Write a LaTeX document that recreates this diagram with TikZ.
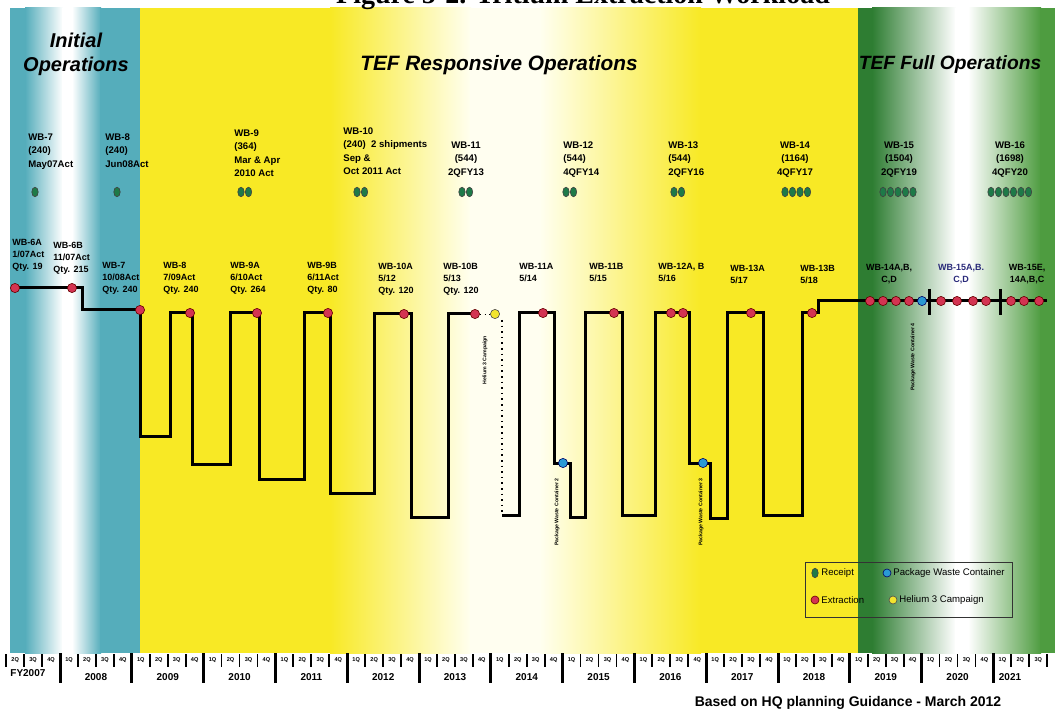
\documentclass[tikz,border=0pt]{standalone}
\usepackage{fontspec}
\setmainfont{Liberation Sans}
\newfontfamily\titleserif{Liberation Serif}
\usetikzlibrary{shapes.geometric}

\definecolor{tealband}{HTML}{55ADBB}
\definecolor{yellowband}{HTML}{F8E925}
\definecolor{greenband}{HTML}{2E7D32}
\definecolor{greenbandR}{HTML}{4E9C40}
\definecolor{rcptgreen}{HTML}{1E7A48}
\definecolor{extrred}{HTML}{D33452}
\definecolor{pwcblue}{HTML}{2A9AD4}
\definecolor{heyellow}{HTML}{F2E42E}
\definecolor{navytext}{HTML}{2A2A7A}

\tikzset{
  toplbl/.style={inner sep=0pt, align=left, anchor=north west, font=\fontsize{4.8}{6.75}\selectfont\bfseries},
  lowlbl/.style={inner sep=0pt, align=left, anchor=north west, font=\fontsize{4.5}{6}\selectfont\bfseries},
  phase/.style={inner sep=0pt, align=center, font=\fontsize{10}{12}\selectfont\bfseries\itshape},
  rotlbl/.style={inner sep=0pt, rotate=90, font=\fontsize{2.6}{3}\selectfont\bfseries},
  rcpt/.style={ellipse, draw=black!75, line width=0.3pt, fill=rcptgreen, inner sep=0pt, minimum width=3.2pt, minimum height=4.8pt},
  xdot/.style={circle, draw=red!40!black, line width=0.3pt, fill=extrred, inner sep=0pt, minimum size=4.6pt},
  pwcdot/.style={xdot, draw=blue!40!black, fill=pwcblue},
  hedot/.style={xdot, draw=black!70, fill=heyellow},
  extr/.style={line width=1.5pt, line join=miter},
  legtxt/.style={inner sep=0pt, anchor=west, font=\fontsize{4.8}{5}\selectfont},
  yrlbl/.style={inner sep=0pt, font=\fontsize{5}{6}\selectfont\bfseries}
}

\begin{document}
\begin{tikzpicture}[x=0.5pt,y=-0.5pt]
\useasboundingbox (0,0) rectangle (1055,711);
\fill[white] (0,0) rectangle (1055,711);

% phase bands
\fill[tealband] (10,8) rectangle (26,653);
\shade[left color=tealband, right color=white] (25,8) rectangle (63,653);
\fill[white] (62,8) rectangle (73,653);
\shade[left color=white, right color=tealband] (72,8) rectangle (101,653);
\fill[tealband] (100,8) rectangle (140,653);

\fill[yellowband] (140,8) rectangle (331,653);
\shade[left color=yellowband, right color=yellow!6] (330,8) rectangle (471,653);
\fill[yellow!6] (470,8) rectangle (541,653);
\shade[left color=yellow!6, right color=yellowband] (540,8) rectangle (701,653);
\fill[yellowband] (700,8) rectangle (858,653);

\fill[greenband] (858,8) rectangle (873,653);
\shade[left color=greenband, right color=white] (872,8) rectangle (956,653);
\fill[white] (955,8) rectangle (969,653);
\shade[left color=white, right color=greenbandR] (968,8) rectangle (1041,653);
\fill[greenbandR] (1040,8) rectangle (1055,653);

% title, cut by the top edge
\node[anchor=base, inner sep=0pt, font=\titleserif\bfseries\fontsize{14}{16}\selectfont] (title) at (583,4) {Figure 5-2. Tritium Extraction Workload};

\node[phase] (initial) at (76,54) {Initial\\Operations};
\node[phase, font=\fontsize{10.4}{12}\selectfont\bfseries\itshape] (responsive) at (499,65) {TEF Responsive Operations};
\node[phase, font=\fontsize{9.6}{12}\selectfont\bfseries\itshape] (full) at (950,65) {TEF Full Operations};

% receipts
\node[toplbl] (wb7) at (28,133) {WB-7\\(240)\\May07Act};
\node[toplbl] (wb8) at (105,133) {WB-8\\(240)\\Jun08Act};
\node[toplbl] (wb9) at (234,129) {WB-9\\(364)\\Mar \& Apr\\2010 Act};
\node[toplbl] (wb10) at (343,127) {WB-10\\(240)\ \ 2 shipments\\Sep \&\\Oct 2011 Act};
\node[toplbl, align=center, anchor=north] (wb11) at (466,141) {WB-11\\(544)\\2QFY13};
\node[toplbl] (wb12) at (563,141) {WB-12\\(544)\\4QFY14};
\node[toplbl] (wb13) at (668,141) {WB-13\\(544)\\2QFY16};
\node[toplbl, align=center, anchor=north] (wb14) at (795,141) {WB-14\\(1164)\\4QFY17};
\node[toplbl, align=center, anchor=north] (wb15) at (899,141) {WB-15\\(1504)\\2QFY19};
\node[toplbl, align=center, anchor=north] (wb16) at (1010,141) {WB-16\\(1698)\\4QFY20};

\foreach \x/\n in {35/1, 117/1, 241/2, 357/2, 462/2, 566/2, 674/2, 785/4, 883/5, 991/6}
  \foreach \i in {1,...,\n}
    \node[rcpt] at (\x+7.5*\i-7.5,192) {};

% extractions
\node[lowlbl] (wb6a) at (12,239) {WB-6A\\1/07Act\\Qty. 19};
\node[lowlbl] (wb6b) at (53,242) {WB-6B\\11/07Act\\Qty. 215};
\node[lowlbl] (wb7x) at (102,262) {WB-7\\10/08Act\\Qty. 240};
\node[lowlbl] (wb8x) at (163,262) {WB-8\\7/09Act\\Qty. 240};
\node[lowlbl] (wb9a) at (230,262) {WB-9A\\6/10Act\\Qty. 264};
\node[lowlbl] (wb9b) at (307,262) {WB-9B\\6/11Act\\Qty. 80};
\node[lowlbl] (wb10a) at (378,263) {WB-10A\\5/12\\Qty. 120};
\node[lowlbl] (wb10b) at (443,263) {WB-10B\\5/13\\Qty. 120};
\node[lowlbl] (wb11a) at (519,263) {WB-11A\\5/14};
\node[lowlbl] (wb11b) at (589,263) {WB-11B\\5/15};
\node[lowlbl] (wb12ab) at (658,263) {WB-12A, B\\5/16};
\node[lowlbl] (wb13a) at (730,265) {WB-13A\\5/17};
\node[lowlbl] (wb13b) at (800,265) {WB-13B\\5/18};
\node[lowlbl, align=center, anchor=north] (wb14x) at (889,264) {WB-14A,B,\\C,D};
\node[lowlbl, align=center, anchor=north, text=navytext] (wb15x) at (961,264) {WB-15A,B.\\C,D};
\node[lowlbl, align=center, anchor=north] (wb15e) at (1027,264) {WB-15E,\\14A,B,C};

\draw[extr] (15,288) -- (82,288) -- (82,310) -- (140,310) -- (140,436) -- (170,436)
  -- (170,313) -- (192,313) -- (192,464) -- (230,464) -- (230,313) -- (259,313)
  -- (259,479) -- (304,479) -- (304,313) -- (330,313) -- (330,493) -- (374,493)
  -- (374,314) -- (411,314) -- (411,517) -- (448,517) -- (448,314) -- (475,314);
\draw[line width=0.4pt, dotted] (475,314) -- (495,314);
\draw[line width=0.8pt, dotted] (502,320) -- (502,515);
\draw[extr] (502,515) -- (519,515) -- (519,313) -- (554,313) -- (554,463) -- (570,463)
  -- (570,517) -- (585,517) -- (585,313) -- (622,313) -- (622,515) -- (655,515)
  -- (655,313) -- (689,313) -- (689,463) -- (710,463) -- (710,518) -- (727,518)
  -- (727,313) -- (763,313) -- (763,515) -- (802,515) -- (802,313) -- (818,313)
  -- (818,301) -- (1047,301);
\draw[line width=1.5pt] (929,289) -- (929,315);
\draw[line width=1.5pt] (1000,289) -- (1000,315);

\foreach \x/\y in {15/288, 72/288, 140/310, 190/313, 257/313, 328/313, 404/314, 475/314,
    543/313, 614/313, 671/313, 683/313, 751/313, 812/313}
  \node[xdot] at (\x,\y) {};
\foreach \x in {870, 883, 896, 909, 941, 957, 973, 986, 1011, 1024, 1039}
  \node[xdot] at (\x,301) {};
\node[hedot] (he3) at (495,314) {};
\node[pwcdot] (pwc2) at (563,463) {};
\node[pwcdot] (pwc3) at (703,463) {};
\node[pwcdot] (pwc4) at (922,301) {};

\node[rotlbl] (he3lbl) at (485,360) {Helium 3 Campaign};
\node[rotlbl] (pwc2lbl) at (557,512) {Package Waste Container 2};
\node[rotlbl] (pwc3lbl) at (701,512) {Package Waste Container 3};
\node[rotlbl] (pwc4lbl) at (913,357) {Package Waste Container 4};

% legend
\draw[line width=0.5pt, black!80] (805,562) rectangle (1012,617);
\node[rcpt] (lgr) at (815,573) {};
\node[legtxt] at (821,573) {Receipt};
\node[pwcdot, minimum size=4pt] (lgp) at (887,573) {};
\node[legtxt] at (893,573) {Package Waste Container};
\node[xdot, minimum size=4pt] (lgx) at (815,600) {};
\node[legtxt] at (821,600) {Extraction};
\node[hedot, minimum size=4pt] (lgh) at (893,600) {};
\node[legtxt] at (899,600) {Helium 3 Campaign};

% fiscal year axis
\foreach \k in {-1,...,13} {
  \draw[line width=1.5pt] (60+71.8*\k,653) -- (60+71.8*\k,683);
  \foreach \q in {1,2,3}
    \draw[line width=0.9pt] (60+71.8*\k+17.95*\q,654) -- (60+71.8*\k+17.95*\q,667);
}
\foreach \k in {-1,...,13}
  \foreach \q in {0,...,3} {
    \pgfmathsetmacro\qx{69+71.8*\k+17.95*\q}
    \ifdim\qx pt>5pt \ifdim\qx pt<1048pt
      \node[inner sep=0pt, font=\fontsize{2.8}{3}\selectfont\bfseries] at (\qx,660) {\the\numexpr\q+1\relax Q};
    \fi\fi
  }
\node[yrlbl, anchor=west] (fy07) at (10,673) {FY2007};
\foreach \yr [count=\k from 0] in {2008,...,2020}
  \node[yrlbl] at (96+71.8*\k,677) {\yr};
\node[yrlbl] (fy21) at (1010,677) {2021};

\node[inner sep=0pt, font=\fontsize{7}{8}\selectfont\bfseries] (basis) at (848,703) {Based on HQ planning Guidance - March 2012};
\end{tikzpicture}
\end{document}
